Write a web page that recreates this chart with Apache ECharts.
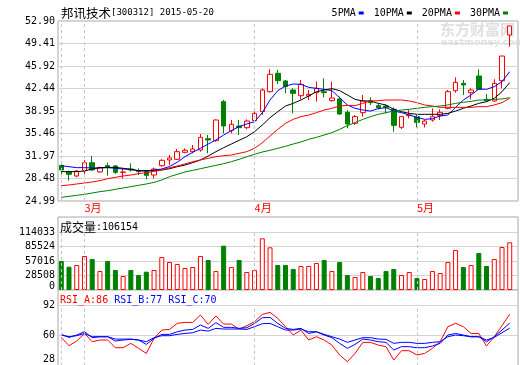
<!DOCTYPE html>
<html><head><meta charset="utf-8">
<script src="https://cdn.jsdelivr.net/npm/echarts@6/dist/echarts.min.js"></script>
<style>html,body{margin:0;padding:0;background:#fff}#c{width:520px;height:365px}</style>
</head><body><div id="c"></div>
<script>
const dates = ['2015-02-25','2015-02-26','2015-02-27',
'2015-03-02','2015-03-03','2015-03-04','2015-03-05','2015-03-06','2015-03-09','2015-03-10','2015-03-11','2015-03-12','2015-03-13','2015-03-16','2015-03-17','2015-03-18','2015-03-19','2015-03-20','2015-03-23','2015-03-24','2015-03-25','2015-03-26','2015-03-27','2015-03-30','2015-03-31',
'2015-04-01','2015-04-02','2015-04-03','2015-04-07','2015-04-08','2015-04-09','2015-04-10','2015-04-13','2015-04-14','2015-04-15','2015-04-16','2015-04-17','2015-04-20','2015-04-21','2015-04-22','2015-04-23','2015-04-24','2015-04-27','2015-04-28','2015-04-29','2015-04-30',
'2015-05-04','2015-05-05','2015-05-06','2015-05-07','2015-05-08','2015-05-11','2015-05-12','2015-05-13','2015-05-14','2015-05-15','2015-05-18','2015-05-19','2015-05-20'];

const opens  = [30.52,29.54,28.87,29.69,30.93,29.49,30.47,30.42,29.43,29.95,29.69,29.54,29.02,30.47,31.35,31.45,32.54,32.64,32.90,34.65,34.34,40.39,35.90,36.62,36.36,37.45,38.84,41.94,44.79,43.60,42.20,41.32,41.27,41.79,41.94,40.55,40.81,38.74,37.03,38.69,40.50,39.77,39.72,39.20,36.41,38.22,38.07,36.93,37.55,38.22,39.36,42.10,43.23,41.79,44.37,40.75,40.50,43.65,50.73];
const closes = [29.80,29.12,29.64,30.93,29.80,30.16,30.26,29.43,29.48,29.80,29.54,28.97,29.95,31.30,31.66,32.64,32.85,33.05,34.86,34.45,37.55,36.62,36.88,36.36,37.39,38.58,42.20,44.63,43.65,42.72,41.68,43.08,41.53,42.46,41.79,40.96,38.48,36.93,38.07,40.50,40.24,39.46,39.51,36.72,38.07,38.32,37.19,37.39,38.07,38.74,41.94,43.39,42.98,42.20,42.30,40.55,43.23,47.47,52.13];
const lows   = [29.18,28.14,28.66,29.18,29.69,29.38,28.92,29.18,28.50,29.54,29.02,28.35,28.50,30.31,30.57,31.35,32.38,32.38,32.64,32.38,34.19,35.48,35.48,35.22,36.10,37.29,38.32,41.79,43.13,41.68,38.58,40.75,40.65,40.39,41.06,40.39,38.32,36.26,36.77,38.07,39.88,39.20,38.58,35.74,36.15,37.81,36.41,36.41,37.29,37.55,39.20,41.79,41.43,40.75,42.20,40.39,40.39,42.46,48.92];
const highs  = [31.09,29.69,29.80,31.35,31.97,30.31,30.93,30.57,30.06,30.83,30.06,29.80,30.16,31.45,32.12,33.05,33.16,33.67,35.38,35.22,37.65,40.65,37.55,37.55,37.65,38.84,42.46,45.41,45.30,43.75,42.46,43.75,42.20,43.49,44.01,43.49,41.17,39.10,38.32,41.43,41.06,40.13,39.88,39.51,38.17,39.10,38.32,37.55,39.36,39.20,42.20,44.16,43.75,42.46,45.41,41.58,43.86,47.47,52.13];

const ma5  = [30.47,30.31,30.16,30.16,30.11,30.11,30.16,30.06,29.95,29.90,29.69,29.64,29.80,29.95,30.35,31.00,31.86,32.54,33.16,33.83,34.45,35.22,35.90,36.52,36.93,37.29,38.69,40.65,42.10,42.82,43.13,43.08,42.61,42.46,42.30,42.10,41.01,39.88,39.36,39.10,38.94,39.31,39.46,38.94,38.69,38.32,37.96,37.65,37.75,38.17,38.32,39.51,40.65,41.43,42.36,42.30,42.72,43.49,45.04];
const ma10 = [29.54,29.54,29.54,29.64,29.95,30.16,30.21,30.21,30.06,29.90,29.69,29.69,29.69,29.80,30.00,30.31,30.57,30.93,31.35,31.97,32.64,33.26,33.83,34.40,34.96,35.74,36.77,37.91,38.84,39.72,40.13,40.65,41.27,41.94,42.20,42.41,42.10,41.43,40.75,40.50,40.50,40.13,39.88,39.20,38.84,38.58,38.43,38.43,38.43,38.43,38.58,38.94,39.36,39.72,40.13,40.39,40.91,41.94,43.34];
const ma20 = [27.37,27.47,27.63,27.78,27.94,28.14,28.45,28.66,28.87,29.02,29.23,29.38,29.59,29.80,30.16,30.42,30.73,31.09,31.35,31.61,31.86,32.02,32.12,32.38,32.64,33.16,34.03,35.07,36.10,37.03,37.65,38.07,38.32,38.69,39.10,39.36,39.72,39.82,39.77,40.13,40.50,40.55,40.65,40.65,40.65,40.50,40.24,39.88,39.72,39.51,39.51,39.51,39.51,39.51,39.62,39.62,39.88,40.24,40.91];
const ma30 = [25.56,25.71,25.87,26.02,26.23,26.44,26.59,26.80,27.01,27.21,27.42,27.63,27.88,28.25,28.76,29.12,29.49,29.74,30.00,30.26,30.52,30.78,31.09,31.45,31.86,32.23,32.59,32.85,33.16,33.47,33.83,34.14,34.55,34.86,35.22,35.59,36.10,36.67,37.14,37.65,38.07,38.43,38.69,38.94,39.10,39.20,39.36,39.51,39.62,39.72,39.88,40.13,40.29,40.44,40.65,40.65,40.75,40.81,41.01];

const volumes = [57000,45800,49200,66800,60900,37400,57000,39300,27500,39300,29500,36000,39300,64900,55000,51100,43300,45200,66800,59000,37400,87100,45200,59000,35400,39300,101600,83900,49200,49200,41300,47200,47200,53100,59000,37400,55000,29500,25600,35400,27500,23600,37400,41300,29500,35400,23600,21600,37400,33400,55000,78600,45200,49200,72700,47200,60900,84500,93800];

const rsiA = [58.2,49.3,54.3,62.4,53.6,55.4,55.4,47.2,47.2,51.8,46.5,41.1,57.1,66.0,66.7,73.2,74.2,74.2,82.0,72.1,81.0,72.4,72.4,67.1,70.7,74.9,82.7,84.9,78.5,69.6,60.7,66.0,55.4,58.9,55.4,50.0,39.4,32.3,41.1,52.9,52.9,50.0,48.3,34.0,44.0,44.0,39.4,41.1,46.5,53.6,69.6,73.2,69.6,62.4,62.4,49.0,58.9,70.7,83.0];
const rsiB = [61.4,58.2,60.7,64.2,57.9,58.9,58.9,54.3,55.4,56.1,55.4,50.7,57.1,61.4,61.4,64.2,66.0,66.7,71.4,67.8,73.9,68.9,68.9,67.8,68.5,73.1,79.2,79.5,73.1,67.8,66.7,67.8,62.4,64.2,60.7,57.9,51.8,46.5,50.7,56.4,55.4,53.6,52.9,44.7,48.3,48.3,47.2,47.2,49.0,51.8,60.7,62.4,60.7,58.9,58.9,53.6,58.9,66.0,73.5];
const rsiC = [60.7,58.9,60.0,62.4,58.9,58.9,58.9,56.4,56.4,56.4,55.4,53.6,57.9,60.0,60.0,61.4,62.4,63.2,66.0,64.9,67.8,67.1,67.1,67.1,66.7,69.6,72.8,73.1,69.6,66.0,66.0,67.1,64.2,64.2,61.4,58.9,56.4,52.9,55.4,57.9,57.9,56.4,56.1,51.8,52.9,52.9,51.8,51.8,52.9,53.6,58.9,60.7,60.0,58.9,58.9,55.4,58.2,63.2,68.0];

const priceTicks = ['24.99','28.48','31.97','35.46','38.95','42.44','45.92','49.41','52.90'];
const volTicks = ['0','28508','57016','85524','114033'];
const rsiTicks = ['28','60','92'];
const monthTickIdx = [3, 25, 46];
const monthLabels = ['3月','4月','5月'];
const vLineIdx = [0, 3, 25, 46];

const stockTitle = ['邦讯技术', '[300312] 2015-05-20'];
const volTitle = ['成交量', ':106154'];
const rsiTitle = ['RSI_A:86', 'RSI_B:77', 'RSI_C:70'];
const maNames = ['5PMA','10PMA','20PMA','30PMA'];

const UP = '#ff0000', DOWN = '#008000';
const MONO = 'DejaVu Sans Mono';
const CJK = 'Noto Sans CJK SC';
const frameColor = '#a8a8a8', gridColor = '#d4d4d4', dashColor = '#c4c4c4';

const plotW = 456.2, plotL = 57.4;
const gridBase = {outerBoundsMode: 'none', containLabel: false};
const grids = [
  Object.assign({left: 58, right: 2, top: 21, height: 180, show: true, borderColor: frameColor, borderWidth: 1}, gridBase),
  Object.assign({left: plotL, width: plotW, top: 21, height: 180}, gridBase),
  Object.assign({left: 58, right: 2, top: 217, height: 73, show: true, borderColor: frameColor, borderWidth: 1}, gridBase),
  Object.assign({left: 58, right: 2, top: 232, height: 58}, gridBase),
  Object.assign({left: plotL, width: plotW, top: 232, height: 58}, gridBase),
  Object.assign({left: 58, right: 2, top: 290, height: 80, show: true, borderColor: frameColor, borderWidth: 1}, gridBase),
  Object.assign({left: 58, right: 2, top: 305.7, height: 60}, gridBase),
  Object.assign({left: plotL, width: plotW, top: 305.7, height: 60}, gridBase)
];

function hiddenValueX(gi) { return {type: 'value', gridIndex: gi, show: false, min: 0, max: 1}; }
function hiddenCatX(gi, showLabels) {
  return {
    type: 'category', gridIndex: gi, data: dates, boundaryGap: true,
    axisLine: {show: false}, axisTick: {show: false}, splitLine: {show: false},
    axisLabel: showLabels ? {
      show: true, margin: 1, color: '#ff0000', fontSize: 11, fontFamily: CJK, align: 'left',
      interval: (idx) => monthTickIdx.indexOf(idx) >= 0,
      formatter: (val, idx) => { const k = monthTickIdx.indexOf(idx); return k >= 0 ? monthLabels[k] : ''; }
    } : {show: false}
  };
}
function tickY(gi, labels, richShift) {
  return {
    type: 'value', gridIndex: gi, min: 0, max: labels.length - 1, interval: 1,
    axisLine: {show: false}, axisTick: {show: false},
    splitLine: {show: true, lineStyle: {color: gridColor, width: 1, type: 'solid'}},
    axisLabel: {
      show: true, margin: 3, color: '#000', fontSize: 10, fontFamily: MONO,
      formatter: (v) => {
        const s = labels[Math.round(v)];
        if (s === undefined) return '';
        return (richShift && Math.round(v) === 0) ? '{z|' + s + '}' : s;
      },
      rich: richShift ? {z: {padding: [0, 0, richShift, 0], fontSize: 10, fontFamily: MONO, color: '#000'}} : undefined
    }
  };
}
function hiddenY(gi, mn, mx) { return {type: 'value', gridIndex: gi, show: false, min: mn, max: mx, splitLine: {show: false}}; }

const vLine = (gi) => ({
  silent: true, symbol: ['none', 'none'], animation: false,
  label: {show: false},
  lineStyle: {color: dashColor, type: [3, 3], width: 1},
  emphasis: {disabled: true},
  data: vLineIdx.map(i => ({xAxis: dates[i]}))
});

const candleData = dates.map((d, i) => [opens[i], closes[i], lows[i], highs[i]]);
const upBar = {color: '#ffffff', borderColor: UP, borderWidth: 1};
const downBar = {color: DOWN, borderColor: DOWN, borderWidth: 1};
const volData = volumes.map((v, i) => ({value: v, itemStyle: closes[i] >= opens[i] ? upBar : downBar}));

function maLine(name, data, color) {
  return {name, type: 'line', xAxisIndex: 1, yAxisIndex: 1, data, color, symbol: 'none', showSymbol: false,
    lineStyle: {color, width: 1}, silent: true, z: 3};
}
function rsiLine(name, data, color, withMark) {
  const s = {name, type: 'line', xAxisIndex: 5, yAxisIndex: 5, data, color, symbol: 'none', showSymbol: false,
    lineStyle: {color, width: 1}, silent: true, z: 3};
  if (withMark) s.markLine = vLine();
  return s;
}

const titleBase = {padding: 0};
const option = {
  animation: false,
  backgroundColor: '#ffffff',
  grid: grids,
  title: [
    Object.assign({left: 61, top: 6, text: '{a|' + stockTitle[0] + '}{b|' + stockTitle[1] + '}',
      textStyle: {fontWeight: 'normal', rich: {
        a: {fontFamily: CJK, fontSize: 12.5, color: '#000', lineHeight: 14, fontWeight: 'normal'},
        b: {fontFamily: MONO, fontSize: 9, color: '#000', lineHeight: 14, fontWeight: 'normal'}}}}, titleBase),
    Object.assign({left: 60, top: 220, text: '{a|' + volTitle[0] + '}{b|' + volTitle[1] + '}',
      textStyle: {fontWeight: 'normal', rich: {
        a: {fontFamily: CJK, fontSize: 12, color: '#000', lineHeight: 14, fontWeight: 'normal'},
        b: {fontFamily: MONO, fontSize: 10, color: '#000', lineHeight: 14, fontWeight: 'normal'}}}}, titleBase),
    Object.assign({left: 60, top: 293, text: '{r|' + rsiTitle[0] + '} {u|' + rsiTitle[1] + '} {u|' + rsiTitle[2] + '}',
      textStyle: {fontWeight: 'normal', fontFamily: MONO, fontSize: 10, rich: {
        r: {fontFamily: MONO, fontSize: 10, color: '#ff0000', lineHeight: 14},
        u: {fontFamily: MONO, fontSize: 10, color: '#0000ff', lineHeight: 14}}}}, titleBase),
    Object.assign({left: 440, top: 22, z: 0, text: '东方财富网',
      textStyle: {fontFamily: CJK, fontSize: 15, fontWeight: 'bold', color: '#e0e0e0'}}, titleBase),
    Object.assign({left: 441, top: 38, z: 0, text: 'eastmoney.com',
      textStyle: {fontFamily: 'DejaVu Sans', fontSize: 9.5, fontWeight: 'bold', color: '#e0e0e0'}}, titleBase)
  ],
  legend: {
    data: maNames, right: 12, top: 8, icon: 'rect', itemWidth: 5, itemHeight: 3, itemGap: 10,
    align: 'right', selectedMode: false, padding: 0,
    textStyle: {fontFamily: MONO, fontSize: 10, color: '#000', padding: [0, -2, 0, 0]}
  },
  xAxis: [hiddenValueX(0), hiddenCatX(1, true), hiddenValueX(3), hiddenCatX(4, false), hiddenValueX(6), hiddenCatX(7, false)],
  yAxis: [tickY(0, priceTicks, 0), hiddenY(1, 24.99, 52.90), tickY(3, volTicks, 8), hiddenY(4, 0, 114033), tickY(6, rsiTicks, 12), hiddenY(7, 28, 92)],
  series: [
    {name: 'K', type: 'candlestick', xAxisIndex: 1, yAxisIndex: 1, data: candleData, barWidth: 5, silent: true,
      itemStyle: {color: '#ffffff', color0: DOWN, borderColor: UP, borderColor0: DOWN, borderWidth: 1},
      markLine: vLine()},
    maLine(maNames[0], ma5, '#0000ff'),
    maLine(maNames[1], ma10, '#000000'),
    maLine(maNames[2], ma20, '#ff0000'),
    maLine(maNames[3], ma30, '#008000'),
    {name: 'VOL', type: 'bar', xAxisIndex: 3, yAxisIndex: 3, data: volData, barWidth: 5, silent: true, markLine: vLine()},
    rsiLine('RSI_A', rsiA, '#ff0000', true),
    rsiLine('RSI_B', rsiB, '#0000ff', false),
    rsiLine('RSI_C', rsiC, '#0000ff', false)
  ]
};
const chart = echarts.init(document.getElementById('c'), null, {renderer: 'canvas'});
chart.setOption(option);
</script></body></html>
